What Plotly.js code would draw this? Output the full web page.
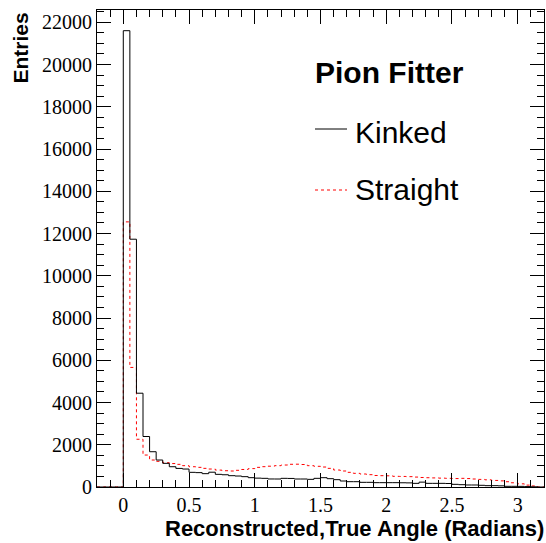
<!DOCTYPE html>
<html>
<head>
<meta charset="utf-8">
<script src="https://cdn.plot.ly/plotly-3.0.1.min.js"></script>
<style>
  html, body { margin: 0; padding: 0; background: #fff; }
  #chart { width: 546px; height: 543px; }
</style>
</head>
<body>
<div id="chart"></div>
<script>
// Histogram definition: 68 bins of width 0.05 from -0.2 to 3.2
const binStart = -0.2;
const binWidth = 0.05;

// Entries per bin (bins from -0.2 upward)
const kinked = [
  0, 0, 0, 0,
  21600, 11730, 4440, 2390, 1670, 1277, 1120, 960, 880, 850,
  694, 680, 631, 700, 599, 580, 536, 520, 489, 441,
  420, 410, 380, 378, 410, 405, 378, 378, 362, 410,
  441, 394, 347, 284, 252, 252, 221, 221, 205, 205,
  205, 205, 200, 195, 173, 230, 173, 173, 173, 165,
  126, 110, 95, 95, 80, 63, 63, 55, 32, 32,
  30, 20, 10, 0
];
const straight = [
  0, 0, 0, 0,
  12550, 5660, 2260, 1513, 1277, 1215, 1150, 1110, 1072, 1009,
  960, 930, 883, 851, 800, 770, 757, 790, 830, 870,
  930, 962, 985, 1009, 1040, 1075, 1080, 1065, 1009, 980,
  946, 883, 804, 757, 694, 647, 615, 583, 545, 536,
  530, 505, 500, 490, 470, 450, 440, 430, 420, 410,
  400, 410, 400, 378, 360, 340, 310, 290, 250, 200,
  150, 90, 50, 0
];

const seriesNames = ["Kinked", "Straight"];
const legendTitle = "Pion Fitter";
const xTitle = "Reconstructed,True Angle (Radians)";
const yTitle = "Entries";

function stepTrace(vals) {
  const x = [], y = [];
  for (let i = 0; i <= vals.length; i++) {
    x.push(+(binStart + i * binWidth).toFixed(4));
    y.push(i < vals.length ? vals[i] : vals[vals.length - 1]);
  }
  return { x: x, y: y };
}

const k = stepTrace(kinked);
const s = stepTrace(straight);

const traces = [
  { x: s.x, y: s.y, type: "scatter", mode: "lines", name: seriesNames[1],
    line: { shape: "hv", color: "#ff0000", width: 1, dash: "3px,3px" }, hoverinfo: "skip" },
  { x: k.x, y: k.y, type: "scatter", mode: "lines", name: seriesNames[0],
    line: { shape: "hv", color: "#000000", width: 1 }, hoverinfo: "skip" }
];

// plot area in pixels: left 97, right 544, top 10, bottom 487
const L = 97, R = 544, T = 10, B = 487;
const px = v => (v - L) / (R - L);
const py = v => (B - v) / (B - T);

const layout = {
  width: 546, height: 543,
  margin: { l: L, r: 546 - R, t: T, b: 543 - B, pad: 0 },
  paper_bgcolor: "#ffffff",
  plot_bgcolor: "#ffffff",
  showlegend: false,
  font: { family: "Liberation Serif, Times New Roman, serif", size: 20, color: "#000" },
  xaxis: {
    range: [-0.2, 3.2],
    tick0: 0, dtick: 0.5,
    ticks: "inside", ticklen: 14, tickwidth: 1, tickcolor: "#000",
    showline: true, linecolor: "#000", linewidth: 1, mirror: "allticks",
    showgrid: false, zeroline: false,
    tickfont: { family: "Liberation Serif, serif", size: 20, color: "#000" },
    minor: { dtick: 0.1, tick0: 0, ticks: "inside", ticklen: 7, tickwidth: 1, tickcolor: "#000", showgrid: false },
    fixedrange: true
  },
  yaxis: {
    range: [0, 22580],
    tick0: 0, dtick: 2000,
    tickformat: "d",
    exponentformat: "none",
    ticks: "inside", ticklen: 14, tickwidth: 1, tickcolor: "#000",
    showline: true, linecolor: "#000", linewidth: 1, mirror: "allticks",
    showgrid: false, zeroline: false,
    tickfont: { family: "Liberation Serif, serif", size: 20, color: "#000" },
    minor: { dtick: 500, tick0: 0, ticks: "inside", ticklen: 7, tickwidth: 1, tickcolor: "#000", showgrid: false },
    fixedrange: true
  },
  annotations: [
    { text: "<b>" + yTitle + "</b>", xref: "paper", yref: "paper",
      x: px(20), y: py(11), xanchor: "center", yanchor: "top", textangle: -90, showarrow: false,
      font: { family: "Liberation Sans, Arial, sans-serif", size: 21, color: "#000" } },
    { text: "<b>" + xTitle + "</b>", xref: "paper", yref: "paper",
      x: px(546), y: py(528), xanchor: "right", yanchor: "middle", showarrow: false,
      font: { family: "Liberation Sans, Arial, sans-serif", size: 22, color: "#000" } },
    { text: "<b>" + legendTitle + "</b>", xref: "paper", yref: "paper",
      x: px(389), y: py(73), xanchor: "center", yanchor: "middle", showarrow: false,
      font: { family: "Liberation Sans, Arial, sans-serif", size: 30, color: "#000" } },
    { text: seriesNames[0], xref: "paper", yref: "paper",
      x: px(353), y: py(132), xanchor: "left", yanchor: "middle", showarrow: false,
      font: { family: "Liberation Sans, Arial, sans-serif", size: 30, color: "#000" } },
    { text: seriesNames[1], xref: "paper", yref: "paper",
      x: px(353), y: py(189), xanchor: "left", yanchor: "middle", showarrow: false,
      font: { family: "Liberation Sans, Arial, sans-serif", size: 30, color: "#000" } }
  ],
  shapes: [
    { type: "line", xref: "paper", yref: "paper", x0: px(315), x1: px(347), y0: py(129), y1: py(129),
      line: { color: "#000", width: 1 } },
    { type: "line", xref: "paper", yref: "paper", x0: px(315), x1: px(347), y0: py(190), y1: py(190),
      line: { color: "#ff0000", width: 1, dash: "3px,3px" } }
  ]
};

Plotly.newPlot("chart", traces, layout, { displayModeBar: false, staticPlot: true });
</script>
</body>
</html>
